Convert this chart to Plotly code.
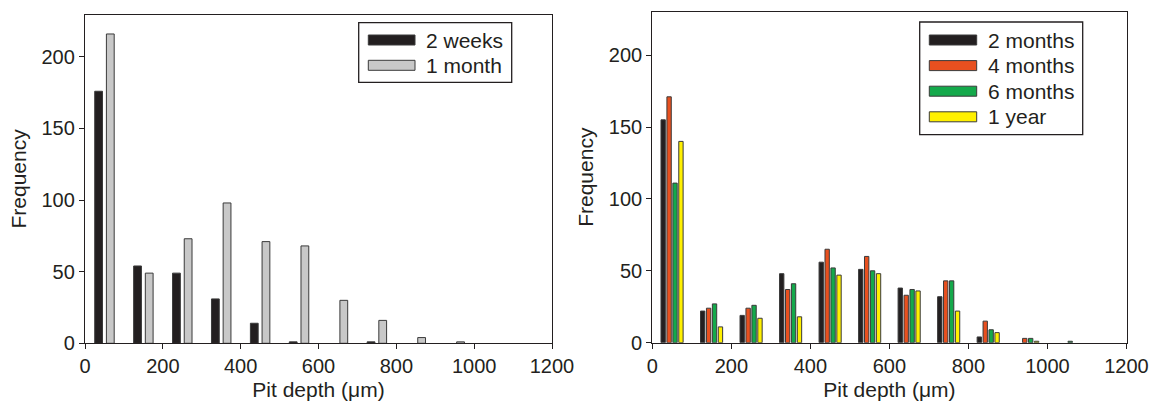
import plotly.graph_objects as go
from plotly.subplots import make_subplots

# Pit-depth histogram bins (bin centres, µm)
bins_early = [50, 150, 250, 350, 450, 550, 650, 750, 850, 950]
bins_late = [50, 150, 250, 350, 450, 550, 650, 750, 850, 950, 1050]

# Frequencies, short exposures
freq_2weeks = [176, 54, 49, 31, 14, 1, 0, 1, 0, 0]
freq_1month = [216, 49, 73, 98, 71, 68, 30, 16, 4, 1]

# Frequencies, long exposures
freq_2months = [155, 22, 19, 48, 56, 51, 38, 32, 4, 0, 0]
freq_4months = [171, 24, 24, 37, 65, 60, 33, 43, 15, 3, 0]
freq_6months = [111, 27, 26, 41, 52, 50, 37, 43, 9, 3, 1]
freq_1year = [140, 11, 17, 18, 47, 48, 36, 22, 7, 1, 0]

x_ticks = [0, 200, 400, 600, 800, 1000, 1200]
y_ticks = [0, 50, 100, 150, 200]

INK = "#231f20"
FONT = "Liberation Sans, Arial, Helvetica, sans-serif"
W, H = 1151, 401

left_series = [
    ("2 weeks", freq_2weeks, INK, "#3a3a3a"),
    ("1 month", freq_1month, "#c8c8c8", "#3a3a3a"),
]
right_series = [
    ("2 months", freq_2months, INK, "#3a3a3a"),
    ("4 months", freq_4months, "#e8501f", "#3a3a3a"),
    ("6 months", freq_6months, "#14a94b", "#3a3a3a"),
    ("1 year", freq_1year, "#fff000", "#3a3a3a"),
]


def visible(vals):
    # empty bins get no bar at all (avoids a stray outline at zero)
    return [v if v else None for v in vals]


fig = make_subplots(rows=1, cols=2)

# left panel: two bars of width 20 per bin, 10 µm apart
for i, (name, vals, col, edge) in enumerate(left_series):
    fig.add_trace(go.Bar(
        x=bins_early, y=visible(vals), name=name, width=20, offset=-25 + 30 * i,
        marker=dict(color=col, line=dict(color=edge, width=1)),
        showlegend=False), row=1, col=1)

# right panel: four bars of width 11 per bin
for i, (name, vals, col, edge) in enumerate(right_series):
    fig.add_trace(go.Bar(
        x=bins_late, y=visible(vals), name=name, width=11, offset=-28 + 15 * i,
        marker=dict(color=col, line=dict(color=edge, width=1)),
        showlegend=False), row=1, col=2)

axis_common = dict(
    showline=True, mirror=True, linecolor=INK, linewidth=1.3,
    ticks="outside", ticklen=5, tickwidth=1.2, tickcolor=INK,
    showgrid=False, zeroline=False, automargin=False,
    tickfont=dict(family=FONT, size=20, color=INK),
)

px_x = lambda p: p / W
px_y = lambda p: 1 - p / H

xtitle = dict(text="Pit depth (μm)", font=dict(size=21), standoff=6)
ytitle = dict(text="Frequency", font=dict(size=21), standoff=9)

fig.update_layout(
    width=W, height=H, barmode="overlay",
    paper_bgcolor="white", plot_bgcolor="white",
    margin=dict(l=0, r=0, t=0, b=0),
    font=dict(family=FONT, color=INK),
    xaxis=dict(domain=[px_x(85), px_x(552)], range=[0, 1200], tickvals=x_ticks,
               title=xtitle, **axis_common),
    yaxis=dict(domain=[px_y(343.3), px_y(14.5)], range=[0, 229.6], tickvals=y_ticks,
               title=ytitle, **axis_common),
    xaxis2=dict(domain=[px_x(652.3), px_x(1126.5)], range=[0, 1200], tickvals=x_ticks,
                title=xtitle, **axis_common),
    yaxis2=dict(domain=[px_y(342.7), px_y(11.7)], range=[0, 230.2], tickvals=y_ticks,
                title=ytitle, **axis_common),
)


# hand-drawn legends with wide swatches
def draw_legend(series, box, sw_x0, sw_x1, text_x, row_y0, row_step):
    bx0, by0, bx1, by1 = box
    fig.add_shape(type="rect", xref="paper", yref="paper",
                  x0=px_x(bx0), x1=px_x(bx1), y0=px_y(by1), y1=px_y(by0),
                  line=dict(color=INK, width=1.3), fillcolor="white", layer="above")
    for k, (name, _vals, col, edge) in enumerate(series):
        cy = row_y0 + k * row_step
        fig.add_shape(type="rect", xref="paper", yref="paper",
                      x0=px_x(sw_x0), x1=px_x(sw_x1),
                      y0=px_y(cy + 5), y1=px_y(cy - 5),
                      line=dict(color=edge, width=1), fillcolor=col, layer="above")
        fig.add_annotation(text=name, xref="paper", yref="paper",
                           x=px_x(text_x), y=px_y(cy), xanchor="left", yanchor="middle",
                           showarrow=False, font=dict(family=FONT, size=21, color=INK))


draw_legend(left_series, (358.7, 22.7, 511.7, 82.3), 368.3, 415, 424, 40, 25.3)
draw_legend(right_series, (919.7, 22, 1082.7, 134.7), 929.3, 976.7, 986, 40, 25.6)

fig.write_html("out.html")
